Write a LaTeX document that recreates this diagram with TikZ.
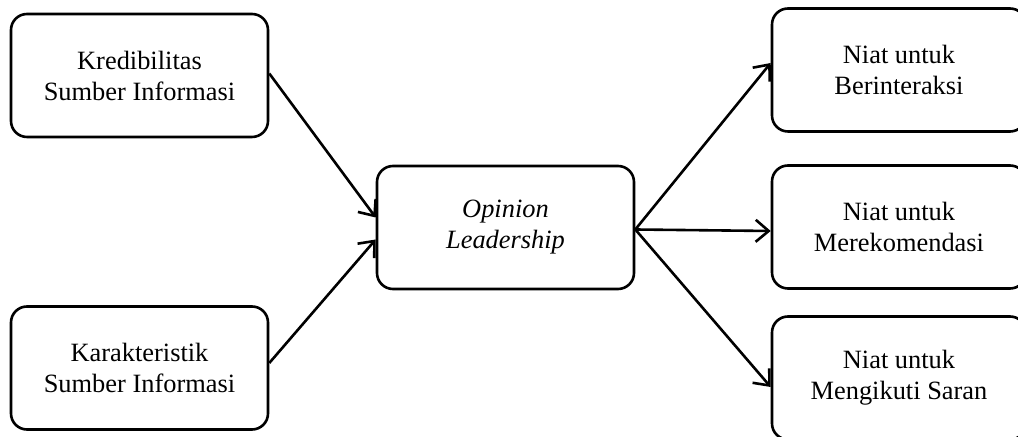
\documentclass[tikz,border=0pt]{standalone}
\usepackage{fontspec}
\setmainfont{Liberation Serif}
\usetikzlibrary{arrows.meta}

\begin{document}
\begin{tikzpicture}[x=0.5pt, y=-0.5pt,
    box/.style={draw, line width=1.3pt, rounded corners=8pt, align=center,
      minimum width=128.5pt, minimum height=61.5pt, inner sep=0pt,
      font=\fontsize{13.2}{15.5}\selectfont},
    link/.style={-{Straight Barb[length=6.5pt, width=11pt, line width=1.3pt]}, line width=1.3pt}]
      \useasboundingbox (0,0) rectangle (1018,437);
      \node[box] (kred) at (139.5,75.5) {Kredibilitas\\Sumber Informasi};
      \node[box] (karak) at (139.5,368) {Karakteristik\\Sumber Informasi};
      \node[box] (opl) at (505.5,227.5) {\itshape Opinion\\\itshape Leadership};
      \node[box, minimum width=127pt] (niat1) at (899,70) {Niat untuk\\Berinteraksi};
      \node[box, minimum width=127pt] (niat2) at (899,227) {Niat untuk\\Merekomendasi};
      \node[box, minimum width=127pt] (niat3) at (899,378) {Niat untuk\\Mengikuti Saran};
      \draw[link] ([yshift=1pt]kred.east) -- ([yshift=5pt]opl.west);
      \draw[link] ([yshift=2.5pt]karak.east) -- ([yshift=-6pt]opl.west);
      \draw[link] ([yshift=-1pt]opl.east) -- ([yshift=3.5pt]niat1.west);
      \draw[link] ([yshift=-1pt]opl.east) -- ([yshift=-2pt]niat2.west);
      \draw[link] ([yshift=-1pt]opl.east) -- ([yshift=-4.5pt]niat3.west);
    \end{tikzpicture}
\end{document}
